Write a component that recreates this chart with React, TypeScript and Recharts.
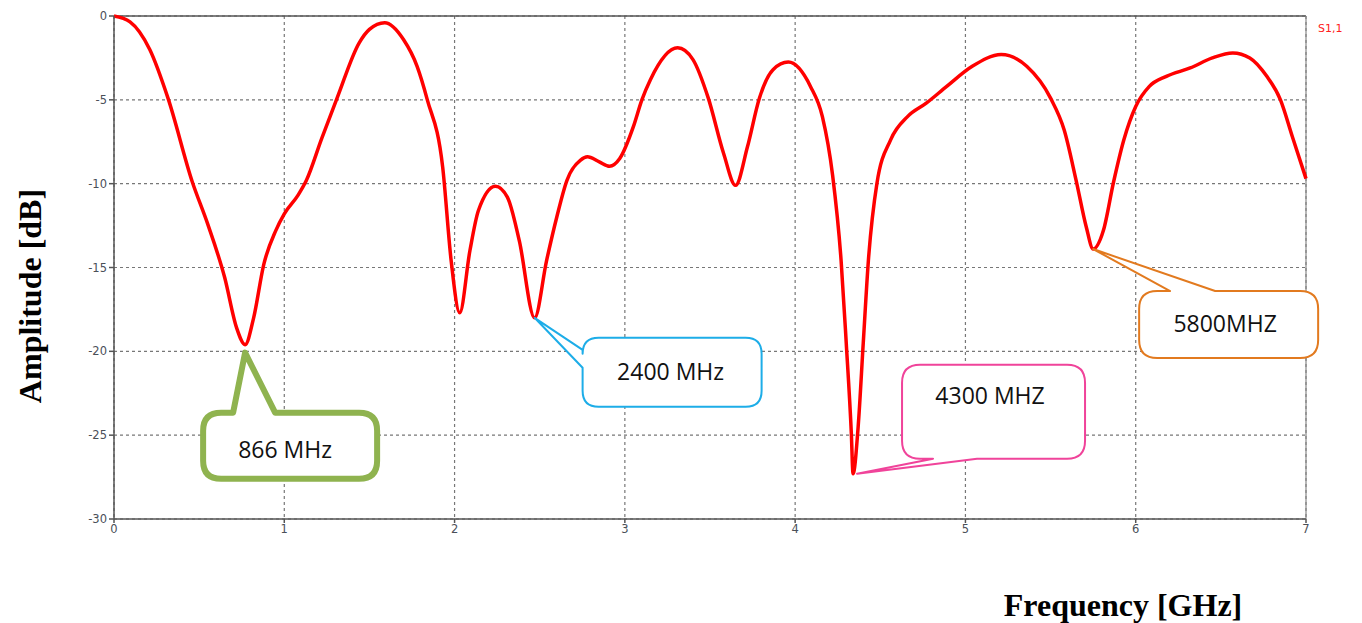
import {
  LineChart,
  Line,
  XAxis,
  YAxis,
  CartesianGrid,
  ReferenceLine,
  ReferenceDot,
} from 'recharts';

// frequency in GHz and S1,1 in dB
const freq = [
  0, 0.094, 0.21, 0.317, 0.46, 0.55, 0.65, 0.72, 0.77, 0.82,
  0.88, 0.95, 1.0, 1.08, 1.13, 1.22, 1.31, 1.44, 1.5, 1.59,
  1.7, 1.78, 1.84, 1.93, 1.98, 2.03, 2.09, 2.14, 2.24, 2.31,
  2.38, 2.47, 2.54, 2.6, 2.66, 2.74, 2.78, 2.85, 2.91, 2.97,
  3.05, 3.1, 3.15, 3.31, 3.4, 3.49, 3.58, 3.65, 3.72, 3.79,
  3.87, 3.96, 4.09, 4.16, 4.22, 4.27, 4.3, 4.33, 4.34, 4.37,
  4.4, 4.43, 4.48, 4.56, 4.66, 4.77, 4.89, 5.04, 5.21, 5.36,
  5.5, 5.58, 5.65, 5.71, 5.75, 5.81, 5.87, 5.93, 6.0, 6.08,
  6.18, 6.32, 6.45, 6.57, 6.67, 6.77, 6.85, 6.92, 7.0,
];
const s11 = [
  0, -0.35, -2.0, -4.9, -9.9, -12.4, -15.6, -18.6, -19.6, -18.0,
  -14.8, -12.8, -11.8, -10.7, -9.8, -7.3, -4.9, -1.6, -0.8, -0.4,
  -1.4, -3.0, -5.0, -9.0, -14.6, -17.7, -14.0, -11.6, -10.15, -10.8,
  -13.4, -18.0, -14.6, -12.0, -9.8, -8.6, -8.4, -8.7, -8.96, -8.5,
  -6.6, -5.0, -3.8, -1.9, -2.6, -4.9, -8.2, -10.1, -7.8, -4.9,
  -3.2, -2.75, -4.2, -6.0, -9.5, -14.6, -19.5, -24.9, -27.3, -24.5,
  -19.5, -14.6, -10.0, -7.4, -6.0, -5.2, -4.2, -3.0, -2.3, -3.0,
  -4.9, -6.8, -9.8, -12.6, -13.9, -12.8, -9.9, -7.4, -5.4, -4.2,
  -3.6, -3.1, -2.5, -2.2, -2.5, -3.6, -5.0, -7.2, -9.7,
];

const xTicks = [0, 1, 2, 3, 4, 5, 6, 7];
const yTicks = [-30, -25, -20, -15, -10, -5, 0];

// annotated resonances
const markFreq = [0.77, 2.47, 4.34, 5.75];
const markDb = [-19.6, -18.0, -27.3, -13.9];
const markText = ['866 MHz', '2400 MHz', '4300 MHZ', '5800MHZ'];

const chartData = freq.map((f, i) => ({ f, db: s11[i] }));

type Geo = {
  L: number; T: number; R: number; B: number; r: number;
  side: 'top' | 'left' | 'bottom';
  a: number; b: number; tx: number; ty: number;
  color: string; width: number; textX: number; textY: number;
};

// callout geometry, offsets from the marked point
const geos: Geo[] = [
  { L: -42, T: 68, R: 132, B: 134, r: 18, side: 'top', a: -12, b: 30, tx: 0, ty: 8,
    color: '#8FB34F', width: 6, textX: 40, textY: 104 },
  { L: 48, T: 20, R: 227, B: 89, r: 16, side: 'left', a: 32, b: 50, tx: 0, ty: 0,
    color: '#1DADE8', width: 2, textX: 136, textY: 53 },
  { L: 49, T: -109, R: 232, B: -15, r: 18, side: 'bottom', a: 80, b: 124, tx: 4, ty: 0,
    color: '#F0439A', width: 2, textX: 137, textY: -79 },
  { L: 46, T: 42, R: 225, B: 109, r: 18, side: 'top', a: 77, b: 122, tx: 0, ty: 0,
    color: '#E27A1F', width: 2, textX: 132, textY: 74 },
];

function calloutPath(cx: number, cy: number, g: Geo) {
  const L = cx + g.L, T = cy + g.T, R = cx + g.R, B = cy + g.B, r = g.r;
  const tx = cx + g.tx, ty = cy + g.ty;
  const rightSide = `H ${R - r} Q ${R} ${T} ${R} ${T + r} V ${B - r} Q ${R} ${B} ${R - r} ${B}`;
  if (g.side === 'top') {
    return `M ${L + r} ${T} H ${cx + g.a} L ${tx} ${ty} L ${cx + g.b} ${T} ${rightSide} H ${L + r} Q ${L} ${B} ${L} ${B - r} V ${T + r} Q ${L} ${T} ${L + r} ${T} Z`;
  }
  if (g.side === 'left') {
    return `M ${L + r} ${T} ${rightSide} H ${L + r} Q ${L} ${B} ${L} ${B - r} V ${cy + g.b} L ${tx} ${ty} L ${L} ${cy + g.a} V ${T + r} Q ${L} ${T} ${L + r} ${T} Z`;
  }
  return `M ${L + r} ${T} ${rightSide} H ${cx + g.b} L ${tx} ${ty} L ${cx + g.a} ${B} H ${L + r} Q ${L} ${B} ${L} ${B - r} V ${T + r} Q ${L} ${T} ${L + r} ${T} Z`;
}

function makeCallout(i: number) {
  return (props: any) => {
    const { cx, cy } = props;
    const g = geos[i];
    return (
      <g>
        <path d={calloutPath(cx, cy, g)} fill="#fff" stroke={g.color} strokeWidth={g.width} strokeLinejoin="round" />
        <text
          x={cx + g.textX}
          y={cy + g.textY}
          textAnchor="middle"
          dominantBaseline="central"
          fontFamily="'Open Sans', Lato, sans-serif"
          fontSize={23}
          fill="#111"
        >
          {markText[i]}
        </text>
      </g>
    );
  };
}

const tickStyle = { fontSize: 11.5, fill: '#4a4f58', fontFamily: 'DejaVu Sans, sans-serif' };

const labelStyle = {
  position: 'absolute' as const,
  whiteSpace: 'nowrap' as const,
  fontFamily: "'Liberation Serif', 'Times New Roman', serif",
  fontWeight: 'bold' as const,
  fontSize: 32,
  lineHeight: '32px',
};

export default function App() {
  return (
    <div style={{ position: 'absolute', left: 0, top: 0, width: 1362, height: 623, background: '#fff' }}>
      <LineChart
        width={1362}
        height={623}
        data={chartData}
        margin={{ top: 16, right: 56, bottom: 74, left: 74 }}
      >
        <CartesianGrid strokeDasharray="3 3" stroke="#777" strokeWidth={1.2} />
        <XAxis
          dataKey="f"
          type="number"
          domain={[0, 7]}
          ticks={xTicks}
          height={30}
          tick={tickStyle}
          tickSize={4}
          stroke="#555"
          strokeWidth={1.5}
        />
        <YAxis
          type="number"
          domain={[-30, 0]}
          ticks={yTicks}
          width={40}
          tick={tickStyle}
          tickSize={5}
          stroke="#555"
          strokeWidth={1.5}
        />
        <ReferenceLine y={0} stroke="#555" strokeWidth={1.5} />
        <ReferenceLine x={7} stroke="#888" strokeWidth={1.2} />
        <Line
          type="monotone"
          dataKey="db"
          stroke="#ff0000"
          strokeWidth={3.5}
          dot={false}
          isAnimationActive={false}
        />
        {markFreq.map((f, i) => (
          <ReferenceDot
            key={markText[i]}
            x={f}
            y={markDb[i]}
            r={0}
            ifOverflow="visible"
            shape={makeCallout(i)}
          />
        ))}
      </LineChart>
      <div style={{ position: 'absolute', left: 1318, top: 22, color: '#ff2020', fontSize: 11, fontFamily: 'DejaVu Sans, sans-serif' }}>
        S1,1
      </div>
      <div style={{ ...labelStyle, left: 30, top: 296, transform: 'translate(-50%, -50%) rotate(-90deg)' }}>
        Amplitude [dB]
      </div>
      <div style={{ ...labelStyle, left: 1123, top: 605, transform: 'translate(-50%, -50%)' }}>
        Frequency [GHz]
      </div>
    </div>
  );
}
